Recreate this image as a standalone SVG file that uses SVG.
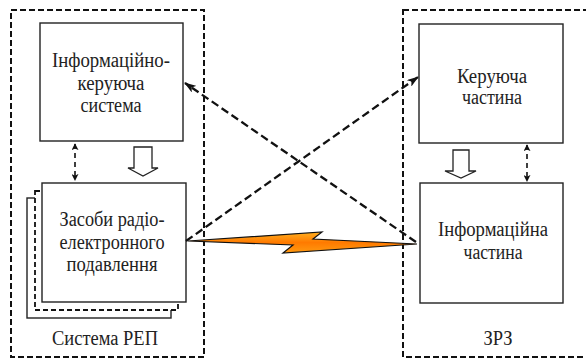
<svg xmlns="http://www.w3.org/2000/svg" width="586" height="360" viewBox="0 0 586 360">
  <style>
    .frame { fill: none; stroke: #111; stroke-width: 2; stroke-dasharray: 6 3; }
    .box { fill: #fff; stroke: #222; stroke-width: 1.4; }
    .box-dash { fill: #fff; stroke: #111; stroke-width: 1.8; stroke-dasharray: 5 3; }
    .label { font-family: "Liberation Serif", "DejaVu Serif Condensed", "DejaVu Serif", serif; font-size: 20px; fill: #222; text-anchor: middle; }
    .link { fill: none; stroke: #111; stroke-width: 2.3; stroke-dasharray: 8 4; }
    .duplex { fill: none; stroke: #111; stroke-width: 1.6; stroke-dasharray: 5 4; }
    .flow { fill: #fff; stroke: #222; stroke-width: 1.3; }
  </style>
  <defs>
    <marker id="dart" viewBox="0 0 12 8" refX="11" refY="4" markerWidth="12" markerHeight="8" markerUnits="userSpaceOnUse" orient="auto">
      <path d="M0,0 L12,4 L0,8 L3,4 Z" fill="#111"/>
    </marker>
    <marker id="tip" viewBox="0 0 8 8" refX="7" refY="4" markerWidth="7" markerHeight="7" markerUnits="userSpaceOnUse" orient="auto-start-reverse">
      <path d="M0,0 L8,4 L0,8 L2,4 Z" fill="#111"/>
    </marker>
    <linearGradient id="bolt" x1="0" y1="0" x2="0" y2="1">
      <stop offset="0" stop-color="#ffb020"/>
      <stop offset="0.5" stop-color="#ff7a00"/>
      <stop offset="1" stop-color="#ff9a10"/>
    </linearGradient>
  </defs>

  <!-- system frames -->
  <g id="system-rep">
    <rect class="frame" x="11" y="10" width="193" height="347"/>
    <text class="label" x="105" y="345" textLength="106" lengthAdjust="spacingAndGlyphs">Система РЕП</text>
  </g>
  <g id="zrz">
    <rect class="frame" x="403" y="10" width="200" height="347"/>
    <text class="label" x="498" y="345" textLength="29" lengthAdjust="spacingAndGlyphs">ЗРЗ</text>
  </g>

  <!-- radio link: jamming bolt -->
  <g id="jamming">
    <polygon points="188,241 322,232 313,239 417,244 283,253 293,245" fill="url(#bolt)" stroke="#111" stroke-width="1.2" stroke-linejoin="miter"/>
  </g>

  <g id="iks">
    <rect class="box" x="40" y="23" width="143" height="118"/>
    <text class="label" x="111" y="67" textLength="118" lengthAdjust="spacingAndGlyphs">Інформаційно-</text>
    <text class="label" x="111" y="90" textLength="67" lengthAdjust="spacingAndGlyphs">керуюча</text>
    <text class="label" x="111" y="112" textLength="61" lengthAdjust="spacingAndGlyphs">система</text>
  </g>

  <g id="zre">
    <rect class="box" x="27" y="198" width="144" height="120"/>
    <rect class="box-dash" x="35" y="191" width="143" height="119"/>
    <rect class="box" x="42" y="183" width="144" height="119"/>
    <text class="label" x="112" y="226" textLength="105" lengthAdjust="spacingAndGlyphs">Засоби радіо-</text>
    <text class="label" x="112" y="249" textLength="105" lengthAdjust="spacingAndGlyphs">електронного</text>
    <text class="label" x="112" y="271" textLength="91" lengthAdjust="spacingAndGlyphs">подавлення</text>
  </g>

  <g id="control-part">
    <rect class="box" x="419" y="24" width="144" height="119"/>
    <text class="label" x="492" y="83" textLength="70" lengthAdjust="spacingAndGlyphs">Керуюча</text>
    <text class="label" x="492" y="104" textLength="60" lengthAdjust="spacingAndGlyphs">частина</text>
  </g>

  <g id="info-part">
    <rect class="box" x="420" y="183" width="143" height="120"/>
    <text class="label" x="493" y="236" textLength="110" lengthAdjust="spacingAndGlyphs">Інформаційна</text>
    <text class="label" x="493" y="259" textLength="59" lengthAdjust="spacingAndGlyphs">частина</text>
  </g>

  <!-- connectors -->
  <g id="connectors">
    <line class="link" x1="186" y1="241" x2="418" y2="77" marker-end="url(#dart)"/>
    <line class="link" x1="416" y1="242" x2="185" y2="83" marker-end="url(#dart)"/>
    <line class="duplex" x1="75" y1="144" x2="75" y2="180" marker-start="url(#tip)" marker-end="url(#tip)"/>
    <line class="duplex" x1="527" y1="145" x2="527" y2="181" marker-start="url(#tip)" marker-end="url(#tip)"/>
    <path class="flow" d="M134,147 H152 V168 H158 L143,176 L128,168 H134 Z"/>
    <path class="flow" d="M453,150 H469 V171 H476 L461,178 L445,171 H453 Z"/>
  </g>
</svg>
